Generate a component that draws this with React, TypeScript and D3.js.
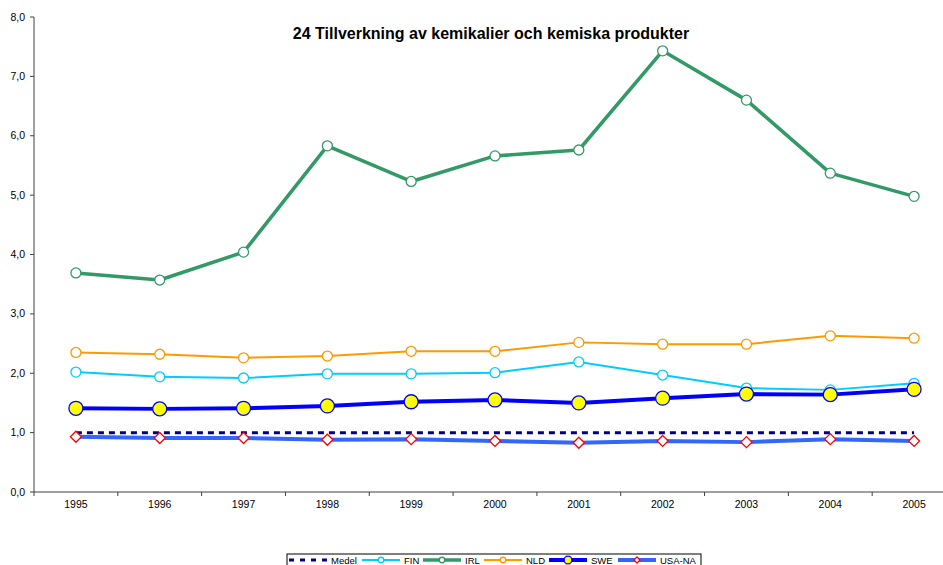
import React from "react";
import * as d3 from "d3";

const years = ["1995","1996","1997","1998","1999","2000","2001","2002","2003","2004","2005"];
const medel = [1,1,1,1,1,1,1,1,1,1,1];
const fin = [2.02,1.94,1.92,1.99,1.99,2.01,2.19,1.97,1.75,1.72,1.83];
const irl = [3.69,3.57,4.04,5.83,5.23,5.66,5.76,7.43,6.60,5.37,4.98];
const nld = [2.35,2.32,2.26,2.29,2.37,2.37,2.52,2.49,2.49,2.63,2.59];
const swe = [1.41,1.40,1.41,1.45,1.52,1.55,1.50,1.58,1.65,1.64,1.73];
const usa = [0.93,0.91,0.91,0.88,0.89,0.86,0.83,0.86,0.84,0.89,0.86];
const yTicks = [0,1,2,3,4,5,6,7,8];
const title = "24 Tillverkning av kemikalier och kemiska produkter";

type S = { name: string; values: number[]; color: string; width: number; dash?: string; marker: "none"|"circle"|"bigcircle"|"diamond"; mfill?: string; mstroke?: string };
const series: S[] = [
  { name: "Medel", values: medel, color: "#000080", width: 3, dash: "6,5", marker: "none" },
  { name: "FIN", values: fin, color: "#00CCFF", width: 2, marker: "circle", mfill: "#fff", mstroke: "#00CCFF" },
  { name: "IRL", values: irl, color: "#339966", width: 3.5, marker: "circle", mfill: "#fff", mstroke: "#339966" },
  { name: "NLD", values: nld, color: "#FF9900", width: 2, marker: "circle", mfill: "#fff", mstroke: "#FF9900" },
  { name: "SWE", values: swe, color: "#0000FF", width: 4, marker: "bigcircle", mfill: "#FFFF00", mstroke: "#0000FF" },
  { name: "USA-NA", values: usa, color: "#3366FF", width: 4, marker: "diamond", mfill: "#fff", mstroke: "#FF0000" },
];

const legendX = [289, 362, 423, 484, 549, 618];

export default function App() {
  const x = d3.scaleBand<string>().domain(years).range([34, 956]);
  const y = d3.scaleLinear().domain([0, 8]).range([492, 17]);
  const cx = (i: number) => (x(years[i]) as number) + x.bandwidth() / 2;
  const line = (vals: number[]) =>
    d3.line<number>().x((_, i) => cx(i)).y((v) => y(v))(vals) as string;
  const fmt = (v: number) => v.toFixed(1).replace(".", ",");
  const axisColor = "#404040";
  const font = "Liberation Sans, Arial, sans-serif";

  const marker = (s: S, px: number, py: number, key: string, scale = 1) => {
    if (s.marker === "circle")
      return <circle key={key} cx={px} cy={py} r={5 * scale} fill={s.mfill} stroke={s.mstroke} strokeWidth={1.3} />;
    if (s.marker === "bigcircle")
      return <circle key={key} cx={px} cy={py} r={7 * scale} fill={s.mfill} stroke={s.mstroke} strokeWidth={1.3} />;
    if (s.marker === "diamond") {
      const r = 5.5 * scale;
      return <path key={key} d={`M${px},${py - r}L${px + r},${py}L${px},${py + r}L${px - r},${py}Z`} fill={s.mfill} stroke={s.mstroke} strokeWidth={1.3} />;
    }
    return null;
  };

  return (
    <svg width={943} height={565} style={{ position: "absolute", left: 0, top: 0, fontFamily: font }}>
      <rect width={943} height={565} fill="#fff" />
      <text x={491} y={39} textAnchor="middle" fontSize={16} fontWeight="bold">{title}</text>
      {/* y axis */}
      <line x1={34} x2={34} y1={y(8)} y2={y(0)} stroke={axisColor} strokeWidth={1} />
      {yTicks.map((t) => (
        <g key={t}>
          <line x1={30} x2={34} y1={y(t)} y2={y(t)} stroke={axisColor} />
          <text x={25} y={y(t) + 3.5} textAnchor="end" fontSize={10.5}>{fmt(t)}</text>
        </g>
      ))}
      {/* x axis */}
      <line x1={34} x2={956} y1={y(0)} y2={y(0)} stroke={axisColor} strokeWidth={1} />
      {years.map((yr, i) => (
        <g key={yr}>
          <line x1={x(yr) as number} x2={x(yr) as number} y1={y(0)} y2={y(0) + 4} stroke={axisColor} />
          <text x={cx(i)} y={508} textAnchor="middle" fontSize={10.5}>{yr}</text>
        </g>
      ))}
      {/* series */}
      {series.map((s) => (
        <g key={s.name}>
          <path d={line(s.values)} fill="none" stroke={s.color} strokeWidth={s.width} strokeDasharray={s.dash} strokeLinejoin="round" />
          {s.values.map((v, i) => marker(s, cx(i), y(v), s.name + i))}
        </g>
      ))}
      {/* legend */}
      <rect x={287} y={554} width={414} height={20} fill="#fff" stroke="#000" strokeWidth={1} />
      {series.map((s, i) => (
        <g key={"lg" + s.name}>
          <line x1={legendX[i]} x2={legendX[i] + 38} y1={560} y2={560} stroke={s.color} strokeWidth={s.width} strokeDasharray={s.dash ? "5,6" : undefined} />
          {marker(s, legendX[i] + 19, 560, "lm" + s.name, 0.55)}
          <text x={legendX[i] + 42} y={563.5} fontSize={9.5}>{s.name}</text>
        </g>
      ))}
    </svg>
  );
}
